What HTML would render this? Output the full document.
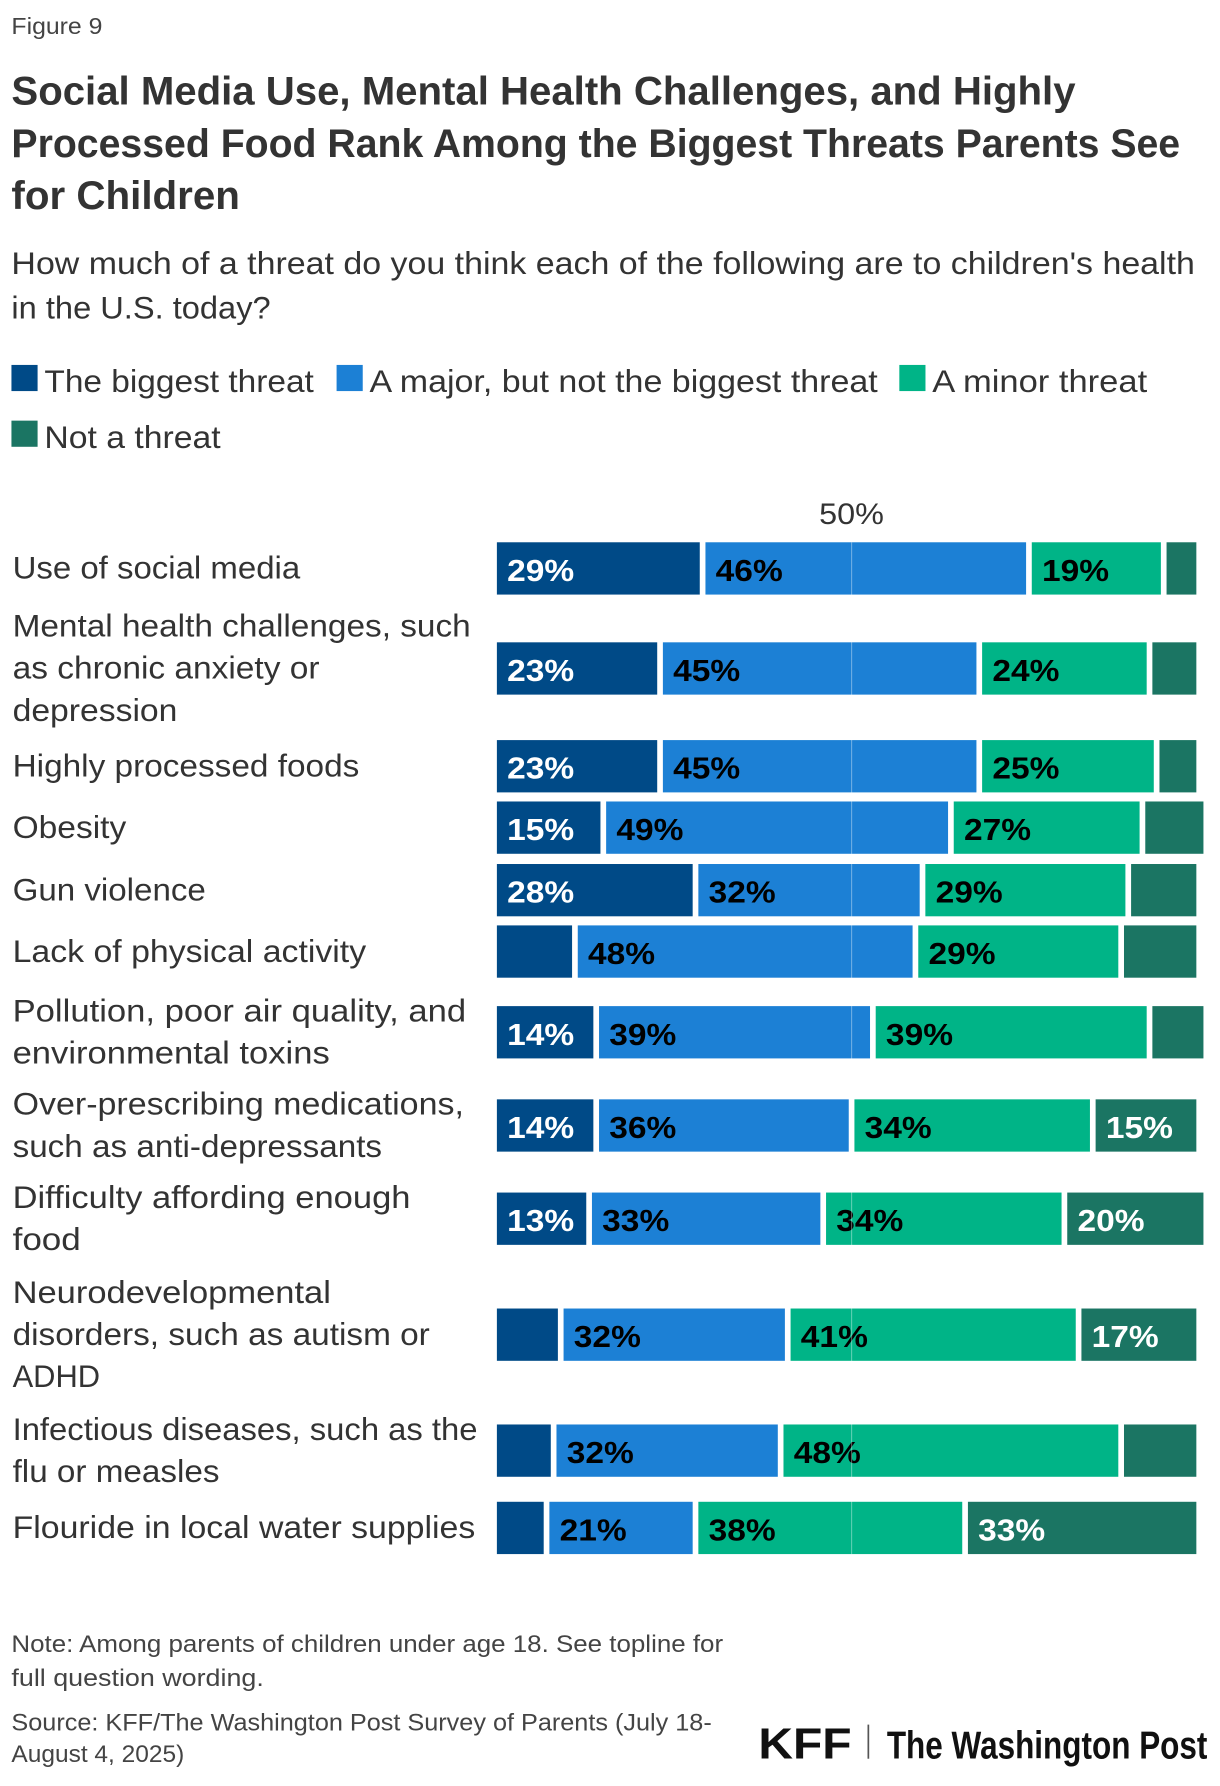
<!DOCTYPE html>
<html><head><meta charset="utf-8">
<style>
html,body{margin:0;padding:0;background:#fff;}
svg{display:block;}
text{font-family:"Liberation Sans",sans-serif;}
</style></head>
<body>
<svg id="chart" width="1220" height="1786" viewBox="0 0 1073 1571" xmlns="http://www.w3.org/2000/svg">
<text x="10" y="30" font-size="20" fill="#444" textLength="80" lengthAdjust="spacingAndGlyphs">Figure 9</text>
<g font-size="35" font-weight="bold" fill="#333">
<text x="10" y="92" textLength="936" lengthAdjust="spacingAndGlyphs">Social Media Use, Mental Health Challenges, and Highly</text>
<text x="10" y="138" textLength="1028" lengthAdjust="spacingAndGlyphs">Processed Food Rank Among the Biggest Threats Parents See</text>
<text x="10" y="184" textLength="201" lengthAdjust="spacingAndGlyphs">for Children</text>
</g>
<g font-size="28" fill="#333">
<text x="10" y="241" textLength="1041" lengthAdjust="spacingAndGlyphs">How much of a threat do you think each of the following are to children's health</text>
<text x="10" y="280" textLength="228" lengthAdjust="spacingAndGlyphs">in the U.S. today?</text>
</g>
<g id="legend" font-size="28" fill="#333"></g>
<text x="749" y="461" font-size="26" fill="#333" text-anchor="middle" textLength="57" lengthAdjust="spacingAndGlyphs">50%</text>
<g id="labels" font-size="28" fill="#333"></g>
<g id="bars"></g>
<g font-size="21" fill="#444">
<text x="10" y="1453" textLength="626" lengthAdjust="spacingAndGlyphs">Note: Among parents of children under age 18. See topline for</text>
<text x="10" y="1483" textLength="222" lengthAdjust="spacingAndGlyphs">full question wording.</text>
<text x="10" y="1522" textLength="616" lengthAdjust="spacingAndGlyphs">Source: KFF/The Washington Post Survey of Parents (July 18-</text>
<text x="10" y="1550" textLength="152" lengthAdjust="spacingAndGlyphs">August 4, 2025)</text>
</g>
<g>
<text x="667" y="1547" font-size="38" font-weight="bold" fill="#111" textLength="82" lengthAdjust="spacingAndGlyphs">KFF</text>
<rect x="763" y="1517" width="1.5" height="30" fill="#555"/>
<text x="780" y="1547" font-size="34" font-weight="bold" fill="#111" font-family="Liberation Serif,serif" textLength="282" lengthAdjust="spacingAndGlyphs">The Washington Post</text>
</g>
</svg>
<script>
const categories = [
 ["Use of social media"],
 ["Mental health challenges, such","as chronic anxiety or","depression"],
 ["Highly processed foods"],
 ["Obesity"],
 ["Gun violence"],
 ["Lack of physical activity"],
 ["Pollution, poor air quality, and","environmental toxins"],
 ["Over-prescribing medications,","such as anti-depressants"],
 ["Difficulty affording enough","food"],
 ["Neurodevelopmental","disorders, such as autism or","ADHD"],
 ["Infectious diseases, such as the","flu or measles"],
 ["Flouride in local water supplies"]
];
const biggest = [29,23,23,15,28,11,14,14,13,9,8,7];
const major   = [46,45,45,49,32,48,39,36,33,32,32,21];
const minor   = [19,24,25,27,29,29,39,34,34,41,48,38];
const notThreat = [5,7,6,9,10,11,8,15,20,17,11,33];
const seriesNames = ["The biggest threat","A major, but not the biggest threat","A minor threat","Not a threat"];
const colors = ["#004a87","#1c80d5","#00b487","#1b7563"];
const textColors = ["#fff","#000","#000","#fff"];

const rowCenters = [500,588,674,728,783,837,908,990,1072,1174,1276,1344];
const x0 = 437, pxPerPct = 6.24, barH = 46, gap = 5;
const xScale = v => x0 + v * pxPerPct;
const NS = "http://www.w3.org/2000/svg";

const legend = document.getElementById('legend');
const legPos = [[10,345],[296,345],[791,345],[10,394]];
const legW = [266,476,218,184];
seriesNames.forEach((n,i)=>{
  const r = document.createElementNS(NS,'rect');
  r.setAttribute('x',legPos[i][0]); r.setAttribute('y',legPos[i][1]-24);
  r.setAttribute('width',23); r.setAttribute('height',23); r.setAttribute('fill',colors[i]);
  
  
  legend.appendChild(r);
  const t = document.createElementNS(NS,'text');
  t.setAttribute('x',legPos[i][0]+29); t.setAttribute('y',legPos[i][1]);
  t.setAttribute('textLength',legW[i]-29); t.setAttribute('lengthAdjust','spacingAndGlyphs');
  t.textContent = n;
  
  
  legend.appendChild(t);
});

const labels = document.getElementById('labels');
const lineH = 37;
const labelWidths = {
 "Use of social media":253,"Mental health challenges, such":403,"as chronic anxiety or":270,"depression":145,
 "Highly processed foods":305,"Obesity":100,"Gun violence":170,"Lack of physical activity":311,
 "Pollution, poor air quality, and":399,"environmental toxins":279,"Over-prescribing medications,":397,
 "such as anti-depressants":325,"Difficulty affording enough":350,"food":60,"Neurodevelopmental":280,
 "disorders, such as autism or":367,"ADHD":77,"Infectious diseases, such as the":409,"flu or measles":182,
 "Flouride in local water supplies":407
};
categories.forEach((lines,i)=>{
  const startY = rowCenters[i] + 9 - (lines.length-1)*lineH/2;
  lines.forEach((ln,j)=>{
    const t = document.createElementNS(NS,'text');
    t.setAttribute('x',11); t.setAttribute('y',startY + j*lineH);
    if(labelWidths[ln]){ t.setAttribute('textLength',labelWidths[ln]); t.setAttribute('lengthAdjust','spacingAndGlyphs'); }
    t.textContent = ln;
    
    
    labels.appendChild(t);
  });
});

const bars = document.getElementById('bars');
const series = [biggest, major, minor, notThreat];
categories.forEach((c,i)=>{
  let cum = 0;
  const y = rowCenters[i] - barH/2;
  series.forEach((s,k)=>{
    const v = s[i];
    const r = document.createElementNS(NS,'rect');
    const x = xScale(cum) + (k>0 ? gap/2 : 0);
    const w = v*pxPerPct - (k>0 ? gap : gap/2);
    r.setAttribute('x',x); r.setAttribute('y',y);
    r.setAttribute('width',Math.max(0,w)); r.setAttribute('height',barH);
    r.setAttribute('fill',colors[k]);
    
    
    bars.appendChild(r);
    if(v >= 13){
      const t = document.createElementNS(NS,'text');
      t.setAttribute('x',x+9); t.setAttribute('y',y+34);
      t.setAttribute('font-size',27); t.setAttribute('font-weight','bold');
      t.setAttribute('fill',textColors[k]);
      t.setAttribute('textLength',59); t.setAttribute('lengthAdjust','spacingAndGlyphs');
      t.textContent = v + '%';
      
      
      bars.appendChild(t);
    }
    cum += v;
  });
});
const ml = document.createElementNS(NS,'line');
ml.setAttribute('x1',xScale(50)); ml.setAttribute('x2',xScale(50));
ml.setAttribute('y1',rowCenters[0]-barH/2); ml.setAttribute('y2',rowCenters[rowCenters.length-1]+barH/2);
ml.setAttribute('stroke','rgba(255,255,255,0.35)'); ml.setAttribute('stroke-width',1);


bars.appendChild(ml);
</script>
</body></html>
